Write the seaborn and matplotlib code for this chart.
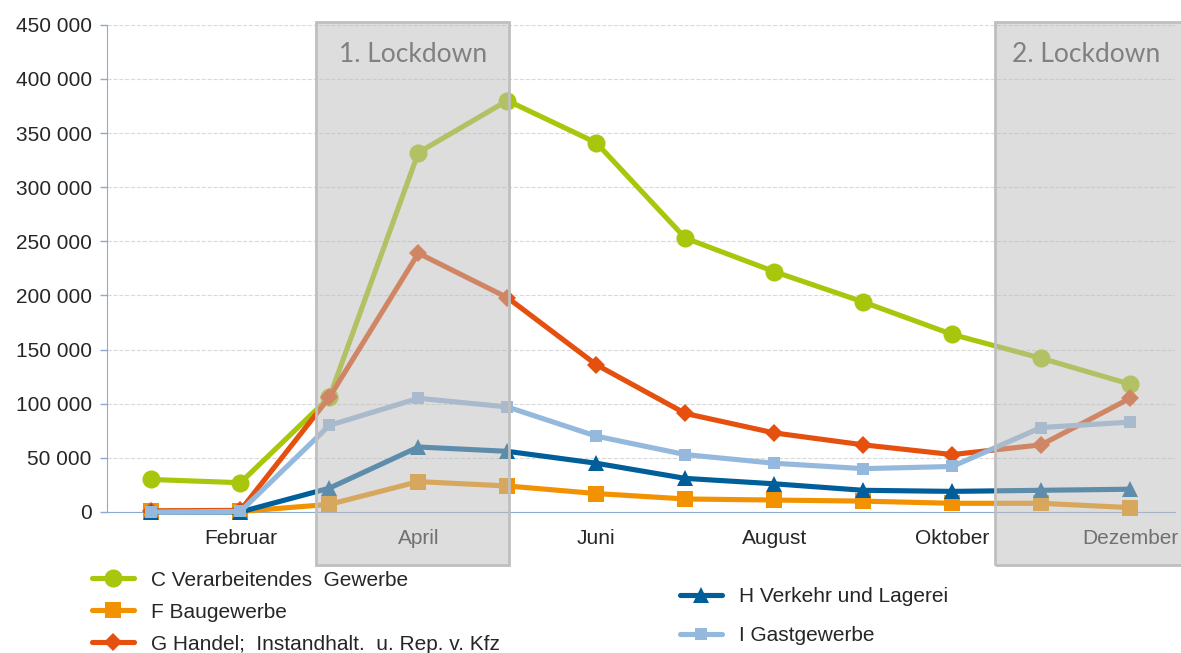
import numpy as np
import pandas as pd
import matplotlib
matplotlib.use('Agg')
import matplotlib.pyplot as plt
import matplotlib.ticker as mticker
import seaborn as sns

# months Jan..Dec, values
months = ['Januar', 'Februar', 'März', 'April', 'Mai', 'Juni', 'Juli',
          'August', 'September', 'Oktober', 'November', 'Dezember']
shown_labels = ['Februar', 'April', 'Juni', 'August', 'Oktober', 'Dezember']

c_verarb = [30000, 27000, 106000, 332000, 380000, 341000, 253000, 222000, 194000, 164000, 142000, 118000]
f_bau = [1000, 500, 7000, 28000, 24000, 17000, 12000, 11000, 10000, 8000, 8000, 4000]
g_handel = [1000, 1500, 106000, 239000, 198000, 136000, 91000, 73000, 62000, 53000, 62000, 105000]
h_verkehr = [0, 0, 22000, 60000, 56000, 45000, 31000, 26000, 20000, 19000, 20000, 21000]
i_gast = [0, 500, 80000, 105000, 97000, 70000, 53000, 45000, 40000, 42000, 78000, 83000]

series_names = ['C Verarbeitendes  Gewerbe', 'F Baugewerbe',
                'G Handel;  Instandhalt.  u. Rep. v. Kfz',
                'H Verkehr und Lagerei', 'I Gastgewerbe']
series_vals = [c_verarb, f_bau, g_handel, h_verkehr, i_gast]
colors = ['#a8c70c', '#f39200', '#e5500f', '#005f9a', '#95b9dc']
markers = ['o', 's', 'D', '^', 's']
msizes = [13, 11, 9, 11, 9]

# lockdown periods (month index, 0 = Januar)
lockdowns = [(1.85, 4.02, '1. Lockdown'), (9.48, 11.7, '2. Lockdown')]

df = pd.DataFrame({
    'month': np.tile(np.arange(12), len(series_names)),
    'value': np.concatenate(series_vals),
    'series': np.repeat(series_names, 12),
})

sns.set_style('white')
plt.rcParams['font.family'] = ['Liberation Sans', 'DejaVu Sans']

fig = plt.figure(figsize=(11.81, 6.53), dpi=100)
ax = fig.add_axes([0.0906, 0.216, 0.904, 0.746])

for name, col, mk, ms in zip(series_names, colors, markers, msizes):
    sub = df[df['series'] == name]
    sns.lineplot(data=sub, x='month', y='value', ax=ax, color=col, marker=mk,
                 markersize=ms, markeredgewidth=0, linewidth=3.7,
                 label=name, clip_on=False, zorder=3)

ax.set_xlim(-0.5, 11.5)
ax.set_ylim(0, 450000)
ax.set_yticks(np.arange(0, 450001, 50000))
ax.yaxis.set_major_formatter(mticker.FuncFormatter(lambda v, p: f'{int(v):,}'.replace(',', ' ')))
ax.set_xticks([months.index(m) for m in shown_labels])
ax.set_xticklabels(shown_labels)
ax.set_xlabel('')
ax.set_ylabel('')
ax.tick_params(axis='x', length=0, pad=12, labelsize=15, colors='#262626')
ax.tick_params(axis='y', length=5, width=1, color='#8eaad0', labelsize=15,
               labelcolor='#262626', pad=6, left=True)
ax.yaxis.grid(True, ls='--', color='#d9d9d9', lw=0.8)
for s in ['top', 'right']:
    ax.spines[s].set_visible(False)
ax.spines['left'].set_color('#8eaad0')
ax.spines['bottom'].set_color('#8eaad0')
ax.get_legend().remove()

for x0, x1, txt in lockdowns:
    ax.axvspan(x0, x1, ymin=-0.109, ymax=1.006, clip_on=False, zorder=5,
               facecolor='#bcbcbc', alpha=0.5, edgecolor='none')
    ax.axvspan(x0, x1, ymin=-0.109, ymax=1.006, clip_on=False, zorder=5.1,
               facecolor='none', edgecolor='#bfbfbf', lw=2)
    ax.text((x0 + x1) / 2 if x1 < 11.5 else x0 + 1.03, 423000, txt,
            ha='center', va='center', fontsize=19, color='#808080',
            family=['Lato', 'DejaVu Sans'], zorder=6)

h_by = {l.get_label(): l for l in ax.get_lines()}
fig.legend([h_by[n] for n in series_names[:3]], series_names[:3],
           loc='upper left', bbox_to_anchor=(0.069, 0.142), frameon=False,
           fontsize=15, handlelength=2.0, handletextpad=0.85,
           labelspacing=0.62, borderpad=0, numpoints=1)
fig.legend([h_by[n] for n in series_names[3:]], series_names[3:],
           loc='upper left', bbox_to_anchor=(0.567, 0.117), frameon=False,
           fontsize=15, handlelength=2.0, handletextpad=0.85,
           labelspacing=0.95, borderpad=0, numpoints=1)

plt.savefig('out.png', dpi=100)
